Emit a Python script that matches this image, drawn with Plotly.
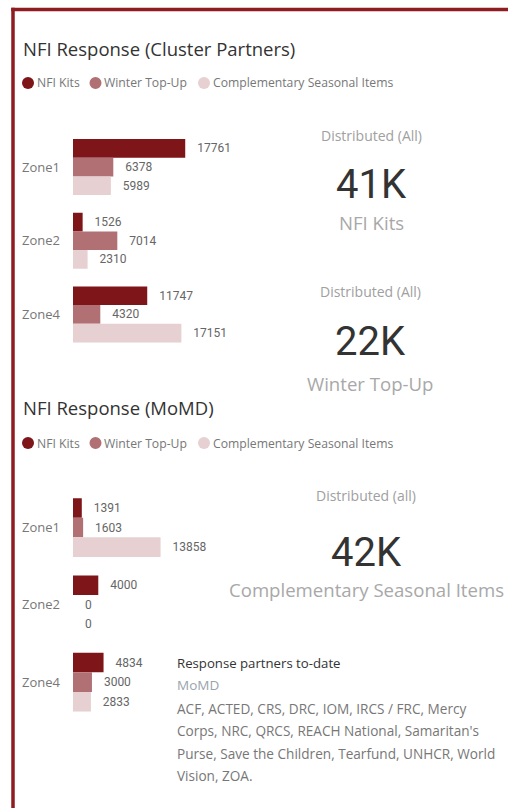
import plotly.graph_objects as go

# ---------------- data ----------------
zones = ["Zone1", "Zone2", "Zone4"]
series_names = ["NFI Kits", "Winter Top-Up", "Complementary Seasonal Items"]
cluster_nfi = [17761, 1526, 11747]
cluster_winter = [6378, 7014, 4320]
cluster_csi = [5989, 2310, 17151]
momd_nfi = [1391, 4000, 4834]
momd_winter = [1603, 0, 3000]
momd_csi = [13858, 0, 2833]
card_titles = ["Distributed (All)", "Distributed (All)", "Distributed (all)"]
partners_lines = [
    "ACF, ACTED, CRS, DRC, IOM, IRCS / FRC, Mercy",
    "Corps, NRC, QRCS, REACH National, Samaritan's",
    "Purse, Save the Children, Tearfund, UNHCR, World",
    "Vision, ZOA.",
]

# ---------------- style ----------------
W, H = 508, 808
colors = ["#7d1519", "#b07074", "#e6d0d1"]
border = "#8e1d21"
FONT = "Open Sans"
NUMFONT = "Roboto"


def px(x):
    return x / W


def py(y):
    return 1 - y / H


fig = go.Figure()

cluster = [cluster_nfi, cluster_winter, cluster_csi]
momd = [momd_nfi, momd_winter, momd_csi]
for axes, data in [(("x", "y"), cluster), (("x2", "y2"), momd)]:
    for i, name in enumerate(series_names):
        fig.add_trace(go.Bar(
            x=data[i], y=zones, orientation="h", name=name,
            marker=dict(color=colors[i], line=dict(width=0)),
            texttemplate="\u00a0\u00a0\u00a0%{x:.0f}", textposition="outside",
            textfont=dict(family=NUMFONT, size=12, color="#666666"),
            constraintext="none", cliponaxis=False, showlegend=False,
            xaxis=axes[0], yaxis=axes[1],
        ))

xr = [0, 31650]
yax = dict(
    type="category", categoryorder="array", categoryarray=zones,
    autorange="reversed", showgrid=False, zeroline=False, showline=False,
    ticks="", ticklabelstandoff=12,
    tickfont=dict(family=FONT, size=13, color="#777777"), fixedrange=True,
)

annotations = []
shapes = []

# border (top and left edges of the frame)
shapes.append(dict(type="line", xref="paper", yref="paper",
                   x0=px(11.25), x1=1.0, y0=py(9.5), y1=py(9.5),
                   line=dict(color=border, width=3.5), layer="above"))
shapes.append(dict(type="line", xref="paper", yref="paper",
                   x0=px(13), x1=px(13), y0=py(7.75), y1=0.0,
                   line=dict(color=border, width=3.5), layer="above"))

# titles and legends
for title, ty, ly in [("NFI Response (Cluster Partners)", 48, 83),
                      ("NFI Response (MoMD)", 407, 443)]:
    annotations.append(dict(text=title, x=px(21), y=py(ty), xref="paper", yref="paper",
                            xanchor="left", yanchor="middle", showarrow=False,
                            font=dict(family=FONT, size=18.5, color="#333333")))
    for cx, tx, name, c in zip([28, 95.5, 204], [34.5, 101.5, 210.5], series_names, colors):
        shapes.append(dict(type="circle", xref="paper", yref="paper",
                           x0=px(cx - 6), x1=px(cx + 6), y0=py(ly + 6), y1=py(ly - 6),
                           fillcolor=c, line=dict(width=0)))
        annotations.append(dict(text=name, x=px(tx), y=py(ly), xref="paper", yref="paper",
                                xanchor="left", yanchor="middle", showarrow=False,
                                font=dict(family=FONT, size=12.2, color="#777777")))

# cards
totals = [sum(cluster[i]) + sum(momd[i]) for i in range(3)]
card_pos = [(371, 135, 185, 222), (370, 291, 342, 383), (366, 495, 552, 589)]
for i, (cx, ty, vy, ly) in enumerate(card_pos):
    annotations.append(dict(text=card_titles[i], x=px(cx), y=py(ty), xref="paper", yref="paper",
                            xanchor="center", yanchor="middle", showarrow=False,
                            font=dict(family=FONT, size=14, color="#a0a0a0")))
    annotations.append(dict(text=f"{round(totals[i] / 1000)}K", x=px(cx), y=py(vy),
                            xref="paper", yref="paper", xanchor="center", yanchor="middle",
                            showarrow=False, font=dict(family=NUMFONT, size=40, color="#333333")))
    annotations.append(dict(text=series_names[i], x=px(cx), y=py(ly), xref="paper", yref="paper",
                            xanchor="center", yanchor="middle", showarrow=False,
                            font=dict(family=FONT, size=18.6, color="#a8a8a8")))

# partners text
annotations.append(dict(text="Response partners to-date", x=px(175), y=py(663), xref="paper",
                        yref="paper", xanchor="left", yanchor="middle", showarrow=False,
                        font=dict(family=FONT, size=13.2, color="#333333")))
annotations.append(dict(text="MoMD", x=px(175), y=py(685), xref="paper",
                        yref="paper", xanchor="left", yanchor="middle", showarrow=False,
                        font=dict(family=FONT, size=13.5, color="#9aa3ad")))
for k, line in enumerate(partners_lines):
    annotations.append(dict(text=line, x=px(175), y=py(708 + 22.5 * k), xref="paper",
                            yref="paper", xanchor="left", yanchor="middle", showarrow=False,
                            font=dict(family=FONT, size=13.6, color="#777777")))

fig.update_layout(
    width=W, height=H, autosize=False,
    margin=dict(l=0, r=0, t=0, b=0, pad=0),
    paper_bgcolor="white", plot_bgcolor="white",
    barmode="group", bargap=0.24, bargroupgap=0,
    xaxis=dict(domain=[px(73), px(273)], range=xr, visible=False, anchor="y", fixedrange=True),
    yaxis=dict(domain=[py(351.3), py(130.2)], anchor="x", **yax),
    xaxis2=dict(domain=[px(73), px(273)], range=xr, visible=False, anchor="y2", fixedrange=True),
    yaxis2=dict(domain=[py(720.8), py(488.9)], anchor="x2", **yax),
    annotations=annotations, shapes=shapes,
    showlegend=False,
)

fig.write_html(
    "out.html",
    config={"displayModeBar": False},
    post_script=("document.documentElement.style.overflow='hidden';"
                 "document.body.style.margin='0px';"
                 "document.body.style.overflow='hidden';"),
)
